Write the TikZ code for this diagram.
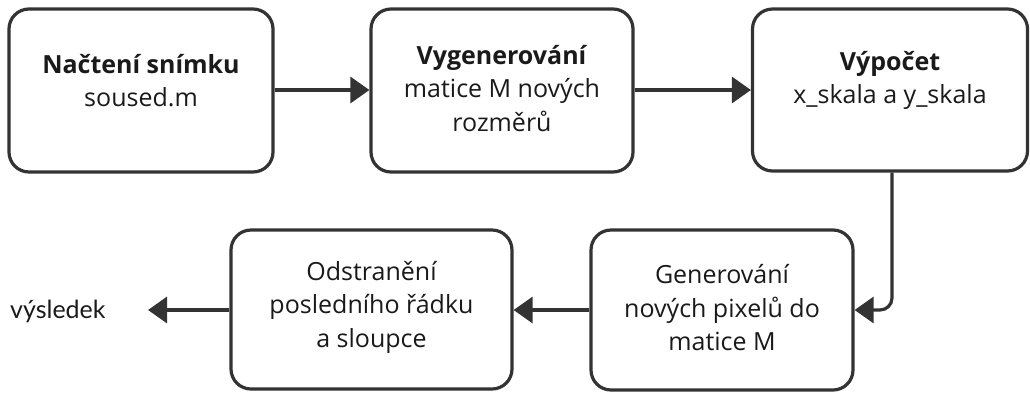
\documentclass[tikz,border=0pt]{standalone}
\usepackage{fontspec}
\setmainfont{Open Sans}
\newfontfamily\outfont{Lato}
\usetikzlibrary{arrows.meta}
\definecolor{edge}{HTML}{333333}
\definecolor{ink}{HTML}{1A1A1A}
\tikzset{
  x=1pt,y=-1pt,
  box/.style={draw=edge,line width=3.2pt,rounded corners=20pt,fill=white,inner sep=0pt},
  txt/.style={align=center,text=ink,font=\fontsize{25}{33.5}\selectfont,inner sep=0pt},
  conn/.style={draw=edge,line width=3.2pt,-{Triangle[length=19pt,width=26pt]}},
}
\begin{document}
\begin{tikzpicture}
\useasboundingbox (0,0) rectangle (1030,392);
\node[box,minimum width=264pt,minimum height=163pt] (b1) at (141,90.5) {};
\node[box,minimum width=262pt,minimum height=163pt] (b2) at (502,90.5) {};
\node[box,minimum width=275pt,minimum height=162pt] (b3) at (890,90) {};
\node[box,minimum width=262pt,minimum height=160pt] (b4) at (722,310) {};
\node[box,minimum width=281pt,minimum height=159pt] (b5) at (371.5,309.5) {};
\node[txt] (t1) at (141,80.5) {\textbf{Načtení snímku}\\soused.m};
\node[txt] (t2) at (502,88.5) {\textbf{Vygenerování}\\matice M nových\\rozměrů};
\node[txt] (t3) at (890,80.5) {\textbf{Výpočet}\\x\_skala a y\_skala};
\node[txt] (t4) at (722,308) {Generování\\nových pixelů do\\matice M};
\node[txt] (t5) at (371.5,307) {Odstranění\\posledního řádku\\a sloupce};
\node[txt,anchor=west,font=\outfont\fontsize{25}{30}\selectfont] (out) at (10,311) {výsledek};
\coordinate (tipout) at (148,310);
\draw[conn] (b1.east |- 0,90) -- (b2.west |- 0,90);
\draw[conn] (b2.east |- 0,90) -- (b3.west |- 0,90);
\draw[conn,rounded corners=12pt] (892,0 |- b3.south) -- (892,310) -- (b4.east |- 0,310);
\draw[conn] (b4.west |- 0,310) -- (b5.east |- 0,310);
\draw[conn] (b5.west |- 0,310) -- (tipout);
\end{tikzpicture}
\end{document}
